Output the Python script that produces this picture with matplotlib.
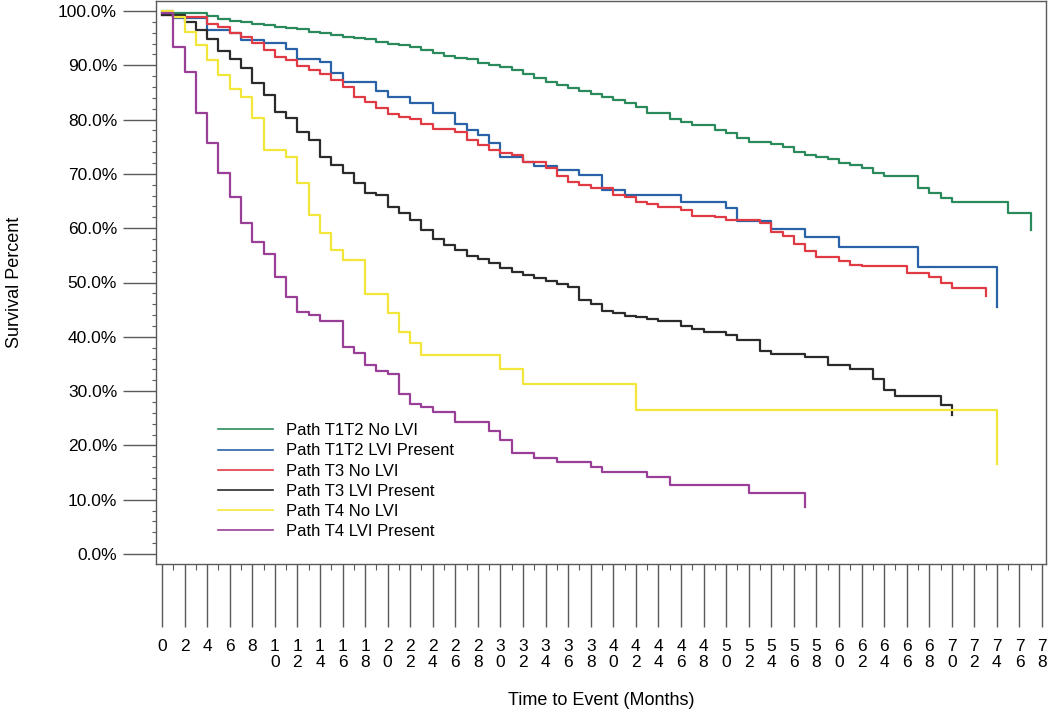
import matplotlib
matplotlib.use('Agg')
import matplotlib.pyplot as plt
from matplotlib.ticker import MultipleLocator, PercentFormatter, FixedLocator

plt.rcParams['font.family'] = ['Liberation Sans', 'DejaVu Sans']

# survival curves: month of each step, survival % after it
t1t2_nolvi_t = [0, 1, 4, 5, 6, 7, 8, 9, 10, 11, 12, 13, 14, 15, 16, 17, 18, 19, 20, 21, 22, 23, 24, 25, 26, 27,
                28, 29, 30, 31, 32, 33, 34, 35, 36, 37, 38, 39, 40, 41, 42, 43, 45, 46, 47, 49, 50, 51, 52, 54,
                55, 56, 57, 58, 59, 60, 61, 62, 63, 64, 67, 68, 69, 70, 75, 77]
t1t2_nolvi_v = [100, 99.6, 99.0, 98.6, 98.2, 97.9, 97.6, 97.4, 97.1, 96.8, 96.6, 96.2, 95.9, 95.6, 95.3, 95.0,
                94.8, 94.3, 94.0, 93.7, 93.3, 92.8, 92.3, 91.8, 91.4, 91.1, 90.4, 90.1, 89.7, 89.1, 88.4, 87.6,
                87.0, 86.4, 85.8, 85.3, 84.7, 84.2, 83.6, 83.0, 82.3, 81.2, 80.2, 79.6, 79.0, 78.1, 77.5, 76.7,
                75.9, 75.5, 75.0, 74.0, 73.5, 73.1, 72.7, 72.0, 71.6, 71.1, 70.2, 69.6, 67.4, 66.5, 65.6, 64.8,
                62.8, 59.7]

t1t2_lvi_t = [0, 1, 4, 6, 7, 9, 11, 12, 14, 15, 16, 19, 20, 22, 24, 26, 27, 28, 29, 30, 32, 33, 35, 37, 39,
              41, 46, 50, 51, 54, 57, 60, 67, 74]
t1t2_lvi_v = [99.6, 98.7, 96.5, 95.9, 94.7, 94.1, 93.0, 91.2, 90.6, 88.6, 86.9, 85.3, 84.2, 83.0, 81.2, 79.2,
              78.1, 77.2, 75.7, 73.1, 72.2, 71.5, 70.7, 69.8, 67.0, 66.1, 64.8, 63.7, 61.3, 59.8, 58.4, 56.5,
              52.8, 45.5]

t3_nolvi_t = [0, 1, 4, 5, 6, 7, 8, 9, 10, 11, 12, 13, 14, 15, 16, 17, 18, 19, 20, 21, 22, 23, 24, 26, 27, 28,
              29, 30, 31, 32, 34, 35, 36, 37, 38, 40, 41, 42, 43, 44, 46, 47, 49, 50, 53, 54, 55, 56, 57, 58,
              60, 61, 62, 66, 68, 69, 70, 73]
t3_nolvi_v = [99.3, 98.9, 97.6, 97.1, 95.9, 95.2, 94.1, 92.8, 91.5, 91.0, 89.9, 89.1, 88.4, 87.3, 86.0, 84.2,
              83.2, 82.1, 81.0, 80.5, 80.1, 79.2, 78.3, 77.7, 76.2, 75.3, 74.4, 73.8, 73.5, 72.2, 71.1, 69.6,
              68.5, 68.0, 67.4, 66.1, 65.7, 64.8, 64.5, 63.9, 63.4, 62.2, 62.0, 61.5, 61.0, 59.3, 58.6, 57.1,
              55.8, 54.7, 54.0, 53.2, 53.0, 51.8, 51.0, 49.9, 49.0, 47.5]

t3_lvi_t = [0, 2, 3, 4, 5, 6, 7, 8, 9, 10, 11, 12, 13, 14, 15, 16, 17, 18, 19, 20, 21, 22, 23, 24, 25, 26,
            27, 28, 29, 30, 31, 32, 33, 34, 35, 36, 37, 38, 39, 40, 41, 42, 43, 44, 46, 47, 48, 50, 51, 53,
            54, 57, 59, 61, 63, 64, 65, 69, 70]
t3_lvi_v = [99.3, 98.0, 96.5, 94.8, 92.6, 91.2, 89.5, 86.7, 84.5, 81.4, 80.3, 77.7, 76.2, 73.1, 71.6, 70.2,
            68.3, 66.5, 66.1, 63.9, 62.8, 61.5, 59.7, 58.0, 56.9, 56.0, 54.9, 54.3, 53.6, 52.7, 51.9, 51.4,
            50.8, 50.3, 49.7, 49.2, 46.8, 46.0, 44.8, 44.4, 43.8, 43.6, 43.3, 43.0, 42.0, 41.4, 40.9, 40.3,
            39.4, 37.4, 36.8, 36.3, 34.8, 34.1, 32.2, 30.2, 29.1, 27.4, 25.6]

t4_nolvi_t = [0, 1, 2, 3, 4, 5, 6, 7, 8, 9, 11, 12, 13, 14, 15, 16, 18, 20, 21, 22, 23, 30, 32, 42, 74]
t4_nolvi_v = [100, 98.9, 96.1, 93.7, 91.0, 88.2, 85.6, 84.2, 80.3, 74.4, 73.1, 68.3, 62.4, 59.2, 55.9, 54.1,
              47.9, 44.4, 40.9, 38.9, 36.6, 34.1, 31.3, 26.5, 16.5]

t4_lvi_t = [0, 1, 2, 3, 4, 5, 6, 7, 8, 9, 10, 11, 12, 13, 14, 16, 17, 18, 19, 20, 21, 22, 23, 24, 26, 29,
            30, 31, 33, 35, 38, 39, 43, 45, 52, 57]
t4_lvi_v = [99.6, 93.4, 88.8, 81.2, 75.7, 70.2, 65.7, 61.0, 57.5, 55.2, 51.0, 47.3, 44.6, 44.0, 42.9, 38.1,
            37.0, 34.8, 33.7, 33.1, 29.5, 27.6, 27.1, 26.1, 24.3, 22.7, 21.0, 18.6, 17.7, 16.9, 16.0, 15.1,
            14.2, 12.7, 11.2, 8.7]

labels = ['Path T1T2 No LVI', 'Path T1T2 LVI Present', 'Path T3 No LVI',
          'Path T3 LVI Present', 'Path T4 No LVI', 'Path T4 LVI Present']
colors = ['#2a8a5c', '#2a62a8', '#e03a44', '#2b2b2b', '#f2e63a', '#9a3f98']
series = [(t1t2_nolvi_t, t1t2_nolvi_v), (t1t2_lvi_t, t1t2_lvi_v), (t3_nolvi_t, t3_nolvi_v),
          (t3_lvi_t, t3_lvi_v), (t4_nolvi_t, t4_nolvi_v), (t4_lvi_t, t4_lvi_v)]

x_ticks = list(range(0, 80, 2))
x_ticklabels = ['\n'.join(str(m)) for m in x_ticks]

fig = plt.figure(figsize=(10.5, 7.11), dpi=100)
ax = fig.add_axes([156/1050, 1 - 564/711, 890/1050, 563/711])

for (t, v), c, lab in zip(series, colors, labels):
    ax.step(t, v, where='post', color=c, lw=1.6, label=lab)

ax.set_xlim(-0.53, 78.35)
ax.set_ylim(-1.84, 101.84)

gray = '#5a5a5a'
for s in ax.spines.values():
    s.set_color(gray); s.set_linewidth(1.0)

ax.yaxis.set_major_locator(MultipleLocator(10))
ax.yaxis.set_minor_locator(MultipleLocator(2))
ax.yaxis.set_major_formatter(PercentFormatter(decimals=1))
ax.tick_params(axis='y', which='major', length=24, width=1.0, color=gray, labelsize=12.5, pad=4)
ax.tick_params(axis='y', which='minor', length=3, width=0.8, color=gray)

ax.xaxis.set_major_locator(FixedLocator(x_ticks))
ax.xaxis.set_minor_locator(FixedLocator(list(range(1, 79, 2))))
ax.set_xticklabels(x_ticklabels, linespacing=1.1)
ax.tick_params(axis='x', which='major', length=45, width=1.0, color=gray, labelsize=12.5, pad=9)
ax.tick_params(axis='x', which='minor', length=4, width=0.8, color=gray)

ax.set_ylabel('Survival Percent', fontsize=13, labelpad=25)
ax.set_xlabel('Time to Event (Months)', fontsize=13, labelpad=16)

leg = ax.legend(loc='upper left', bbox_to_anchor=(0.0697, 0.25), frameon=False, fontsize=12,
                handlelength=3.3, handletextpad=0.8, labelspacing=0.31, borderpad=0, borderaxespad=0)
for h in leg.get_lines():
    h.set_linewidth(1.2)

fig.savefig('out.png', dpi=100)
